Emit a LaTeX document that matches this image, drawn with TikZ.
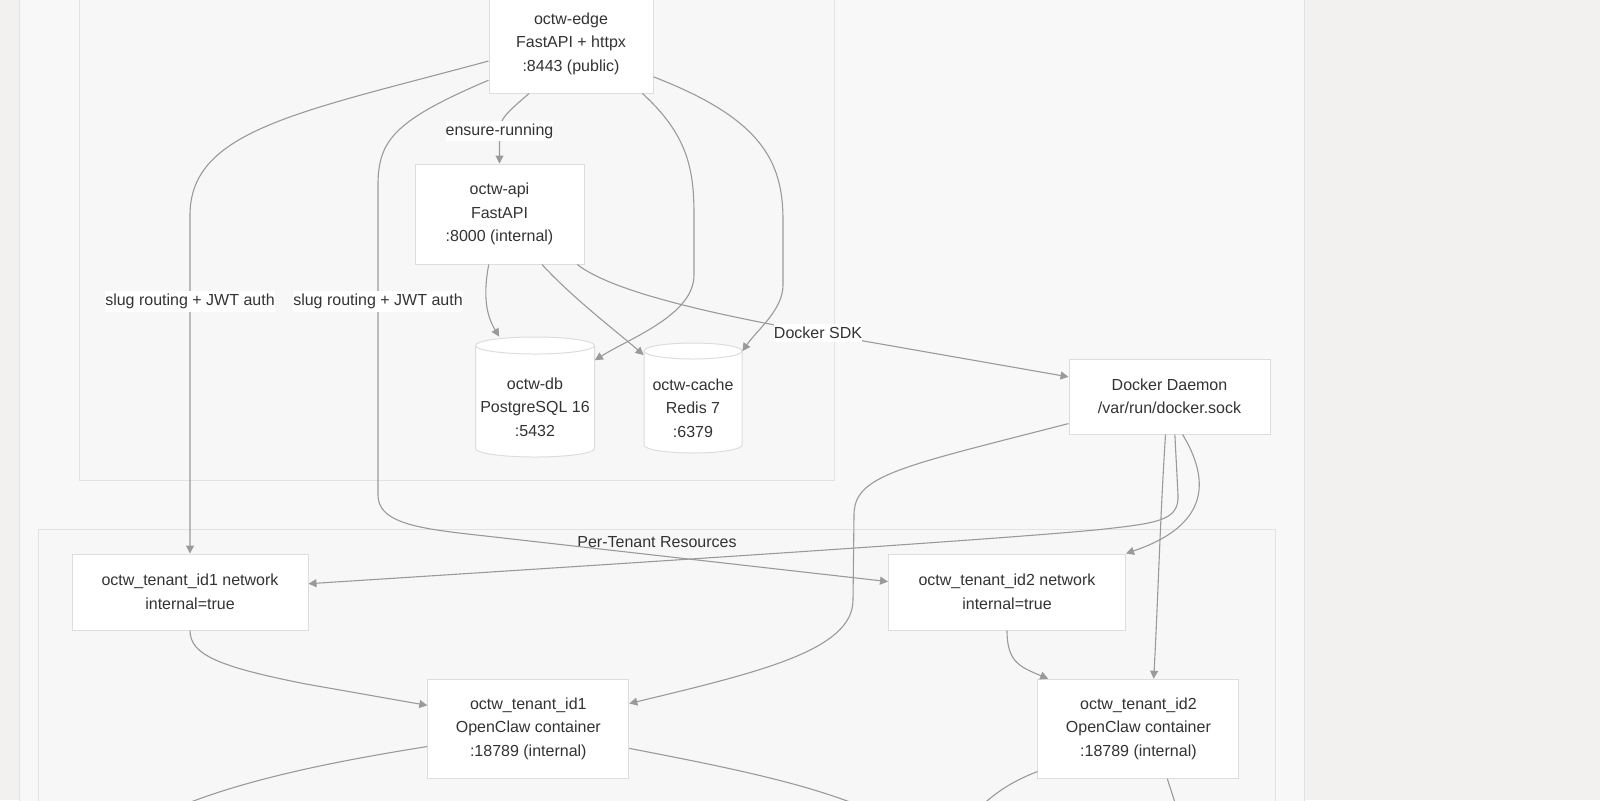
\documentclass[tikz,border=0pt]{standalone}
\usepackage{fontspec}
\setmainfont{Liberation Sans}
\usetikzlibrary{arrows.meta}
\definecolor{pagebg}{HTML}{F2F1EF}
\definecolor{outerbg}{HTML}{F8F8F8}
\definecolor{clusterbg}{HTML}{F7F7F7}
\definecolor{frameline}{HTML}{E2E2E2}
\definecolor{boxline}{HTML}{DDDDDD}
\definecolor{linkgray}{HTML}{9A9A9A}
\definecolor{textgray}{HTML}{333333}

\begin{document}
\begin{tikzpicture}[
    x=0.5pt, y=-0.5pt,
    every node/.style={font=\fontsize{8}{11.75}\selectfont, text=textgray},
    box/.style={draw=boxline, fill=white, line width=0.5pt, align=center, inner sep=0pt},
    store/.style={align=center, inner sep=0pt},
    frame/.style={draw=frameline, line width=0.5pt},
    wire/.style={draw=linkgray, line width=0.55pt, -{Triangle[length=4pt, width=4pt]}},
    wireout/.style={draw=linkgray, line width=0.55pt},
    lbl/.style={fill=white, inner xsep=0pt, inner ysep=1.5pt}
]
\useasboundingbox (0,0) rectangle (1600,800);
\fill[pagebg] (0,0) rectangle (1600,800);
\draw[frame, fill=outerbg] (19.4,-10) rectangle (1304,810);
\draw[frame, fill=clusterbg] (79.6,-10) rectangle (834.7,480.6);
\draw[frame, fill=clusterbg] (38.8,529.6) rectangle (1275.5,810);
\node (tenantlbl) at (657,542) {Per-Tenant Resources};

\draw[draw=boxline, fill=white, line width=0.5pt]
    (475.5,345.5) -- (475.5,448.5)
    .. controls (475.5,453.2) and (502.1,457) .. (535,457)
    .. controls (567.9,457) and (594.5,453.2) .. (594.5,448.5)
    -- (594.5,345.5)
    .. controls (594.5,340.8) and (567.9,337) .. (535,337)
    .. controls (502.1,337) and (475.5,340.8) .. (475.5,345.5) -- cycle;
\draw[draw=boxline, line width=0.5pt]
    (475.5,345.5) .. controls (475.5,350.2) and (502.1,354) .. (535,354)
    .. controls (567.9,354) and (594.5,350.2) .. (594.5,345.5);
\draw[draw=boxline, fill=white, line width=0.5pt]
    (644,351) -- (644,445)
    .. controls (644,449.4) and (665.9,453) .. (693,453)
    .. controls (720.1,453) and (742,449.4) .. (742,445)
    -- (742,351)
    .. controls (742,346.6) and (720.1,343) .. (693,343)
    .. controls (665.9,343) and (644,346.6) .. (644,351) -- cycle;
\draw[draw=boxline, line width=0.5pt]
    (644,351) .. controls (644,355.4) and (665.9,359) .. (693,359)
    .. controls (720.1,359) and (742,355.4) .. (742,351);

\node[box, minimum width=82pt, minimum height=49.5pt] (edgesvc) at (571,43.5) {octw-edge\\FastAPI + httpx\\:8443 (public)};
\node[box, minimum width=84.5pt, minimum height=50pt] (apisvc) at (499.5,214) {octw-api\\FastAPI\\:8000 (internal)};
\node[store, minimum width=59.5pt, minimum height=70pt] (pgdb) at (535,407) {octw-db\\PostgreSQL 16\\:5432};
\node[store, minimum width=49pt, minimum height=65pt] (redis) at (693,408) {octw-cache\\Redis 7\\:6379};
\node[box, minimum width=100.5pt, minimum height=37.5pt] (daemon) at (1169.5,396.5) {Docker Daemon\\/var/run/docker.sock};
\node[box, minimum width=118pt, minimum height=38pt] (net1) at (190,592) {octw\_tenant\_id1 network\\internal=true};
\node[box, minimum width=118.5pt, minimum height=38pt] (net2) at (1007,592) {octw\_tenant\_id2 network\\internal=true};
\node[box, minimum width=100.5pt, minimum height=49.5pt] (tenant1) at (528.3,728.7) {octw\_tenant\_id1\\OpenClaw container\\:18789 (internal)};
\node[box, minimum width=100.5pt, minimum height=49.5pt] (tenant2) at (1138.4,728.7) {octw\_tenant\_id2\\OpenClaw container\\:18789 (internal)};

\coordinate (out1) at (160,815);
\coordinate (out2) at (880,815);
\coordinate (out3) at (975,812);
\coordinate (out4) at (1178,812);

\draw[wire] (edgesvc.192) .. controls (300,112) and (190,130) .. (190,215)
    -- node[lbl, pos=0.256] {slug routing + JWT auth} (net1.north);
\draw[wire] (edgesvc.204) .. controls (395,120) and (378,140) .. (378,185)
    -- node[lbl, pos=0.375] {slug routing + JWT auth} (378,495)
    .. controls (378,520) and (410,527) .. (459,533) -- (net2.175);
\draw[wire] (edgesvc.230) .. controls (505,114) and (499.5,120) .. (499.5,131)
    node[lbl] {ensure-running} -- (apisvc.north);
\draw[wire] (edgesvc.325) .. controls (688,135) and (694,170) .. (694,215)
    -- (694,275) .. controls (694,315) and (630,338) .. (pgdb.38);
\draw[wire] (edgesvc.338) .. controls (760,118) and (783,160) .. (783,220)
    -- (783,285) .. controls (783,310) and (757,330) .. (redis.49);
\draw[wire] (apisvc.258) .. controls (482,300) and (488,318) .. (pgdb.117);
\draw[wire] (apisvc.310) .. controls (575,300) and (615,330) .. (redis.133);
\draw[wire] (apisvc.327) .. controls (610,290) and (700,312) .. (818,333)
    node[lbl] {Docker SDK} -- (daemon.169);
\draw[wire] (daemon.195) .. controls (900,467) and (854,475) .. (854,515)
    -- (853,600) .. controls (853,650) and (760,672) .. (tenant1.14);
\draw[wire] (daemon.278) -- (1178,495) .. controls (1179,520) and (1160,523) .. (1100,529.5)
    .. controls (1000,539.5) and (600,565) .. (net1.4);
\draw[wire] (daemon.289) .. controls (1210,480) and (1210,525) .. (net2.north east);
\draw[wire] (daemon.264) .. controls (1160,520) and (1158,600) .. (tenant2.73);
\draw[wire] (net1.south) .. controls (190,655) and (220,667) .. (306,684) -- (tenant1.167);
\draw[wire] (net2.south) .. controls (1007,662) and (1020,667) .. (tenant2.151);
\draw[wireout] (tenant1.190) .. controls (330,762) and (230,782) .. (out1);
\draw[wireout] (tenant1.349) .. controls (720,766) and (820,785) .. (out2);
\draw[wireout] (tenant2.203) .. controls (1010,782) and (992,795) .. (out3);
\draw[wireout] (tenant2.300) -- (out4);
\end{tikzpicture}
\end{document}
